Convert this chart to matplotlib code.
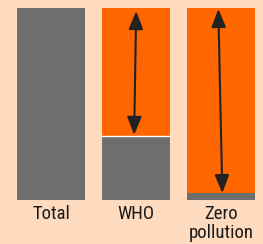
import matplotlib
matplotlib.use("Agg")
import matplotlib.pyplot as plt
from matplotlib import font_manager

categories = ["Total", "WHO", "Zero\npollution"]
gray_share = [1.0, 0.333, 0.036]
orange_share = [0.0, 0.667, 0.964]

BG = "#FEDBBF"
GRAY = "#6E6E6E"
ORANGE = "#FF6600"

names = {f.name for f in font_manager.fontManager.ttflist}
fam = "DejaVu Sans"
for cand in ["Liberation Sans Narrow", "Roboto Condensed", "PT Sans Narrow", "DejaVu Sans"]:
    if cand in names:
        fam = cand
        break

fig = plt.figure(figsize=(2.63, 2.44), dpi=100, facecolor=BG)
ax = fig.add_axes([0, 44/244, 1, 192/244])
ax.set_facecolor(BG)
x = list(range(len(categories)))
ax.bar(x, gray_share, width=0.8, color=GRAY, linewidth=0)
ax.bar(x, orange_share, width=0.8, bottom=gray_share, color=ORANGE, linewidth=0)
# white separator on WHO bar
ax.plot([0.6, 1.4], [gray_share[1], gray_share[1]], color="white", lw=1.0)

ax.set_xlim(-0.6, 2.49)
ax.set_ylim(0, 1)
ax.axis("off")

# arrows
arrows = [(1, 1.0, 0.976, 0.984, gray_share[1] + 0.006),
          (2, 1.965, 2.012, 0.995, gray_share[2])]
for i, xt, xb, yt, yb in arrows:
    ax.annotate("", xy=(xt, yt), xytext=(xb, yb),
                arrowprops=dict(arrowstyle="<|-|>,head_length=0.55,head_width=0.22",
                                mutation_scale=20, color="#222222", lw=1.5,
                                shrinkA=0, shrinkB=0))

for i, c in enumerate(categories):
    ax.text(i, -0.025, c, ha="center", va="top", fontsize=13.5, family=fam,
            color="#1a1a1a", linespacing=1.05, transform=ax.get_xaxis_transform())

fig.savefig("out.png", dpi=100, facecolor=BG)
